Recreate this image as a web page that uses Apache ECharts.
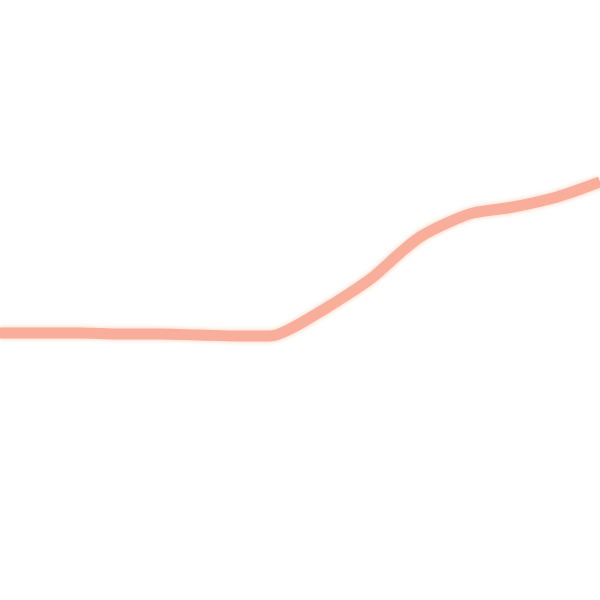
<!DOCTYPE html>
<html>
<head>
<meta charset="utf-8">
<script src="https://cdn.jsdelivr.net/npm/echarts@6/dist/echarts.min.js"></script>
<style>
  html, body { margin: 0; padding: 0; background: #fff; }
  #chart { width: 600px; height: 600px; }
</style>
</head>
<body>
<div id="chart"></div>
<script>
// positions along x and the line's values (0 at the bottom, 600 at the top)
const xs = [0, 40, 80, 120, 160, 200, 240, 270, 290, 323, 350, 373, 400, 420, 447, 473, 513, 557, 600]
const values = [267, 267, 267, 266, 266, 265, 264, 264, 271, 290, 307, 323, 347, 363, 377, 387, 393, 403, 418]

const chart = echarts.init(document.getElementById('chart'))

chart.setOption({
  animation: false,
  backgroundColor: '#ffffff',
  grid: { left: 0, right: 0, top: 0, bottom: 0 },
  xAxis: { type: 'value', min: 0, max: 600, show: false },
  yAxis: { type: 'value', min: 0, max: 600, show: false },
  series: [{
    type: 'line',
    data: xs.map((x, i) => [x, values[i]]),
    smooth: 0.3,
    symbol: 'none',
    lineStyle: {
      width: 11,
      color: '#f8ae9a',
      shadowColor: 'rgba(255, 205, 180, 1)',
      shadowBlur: 5,
    },
  }],
})
</script>
</body>
</html>
